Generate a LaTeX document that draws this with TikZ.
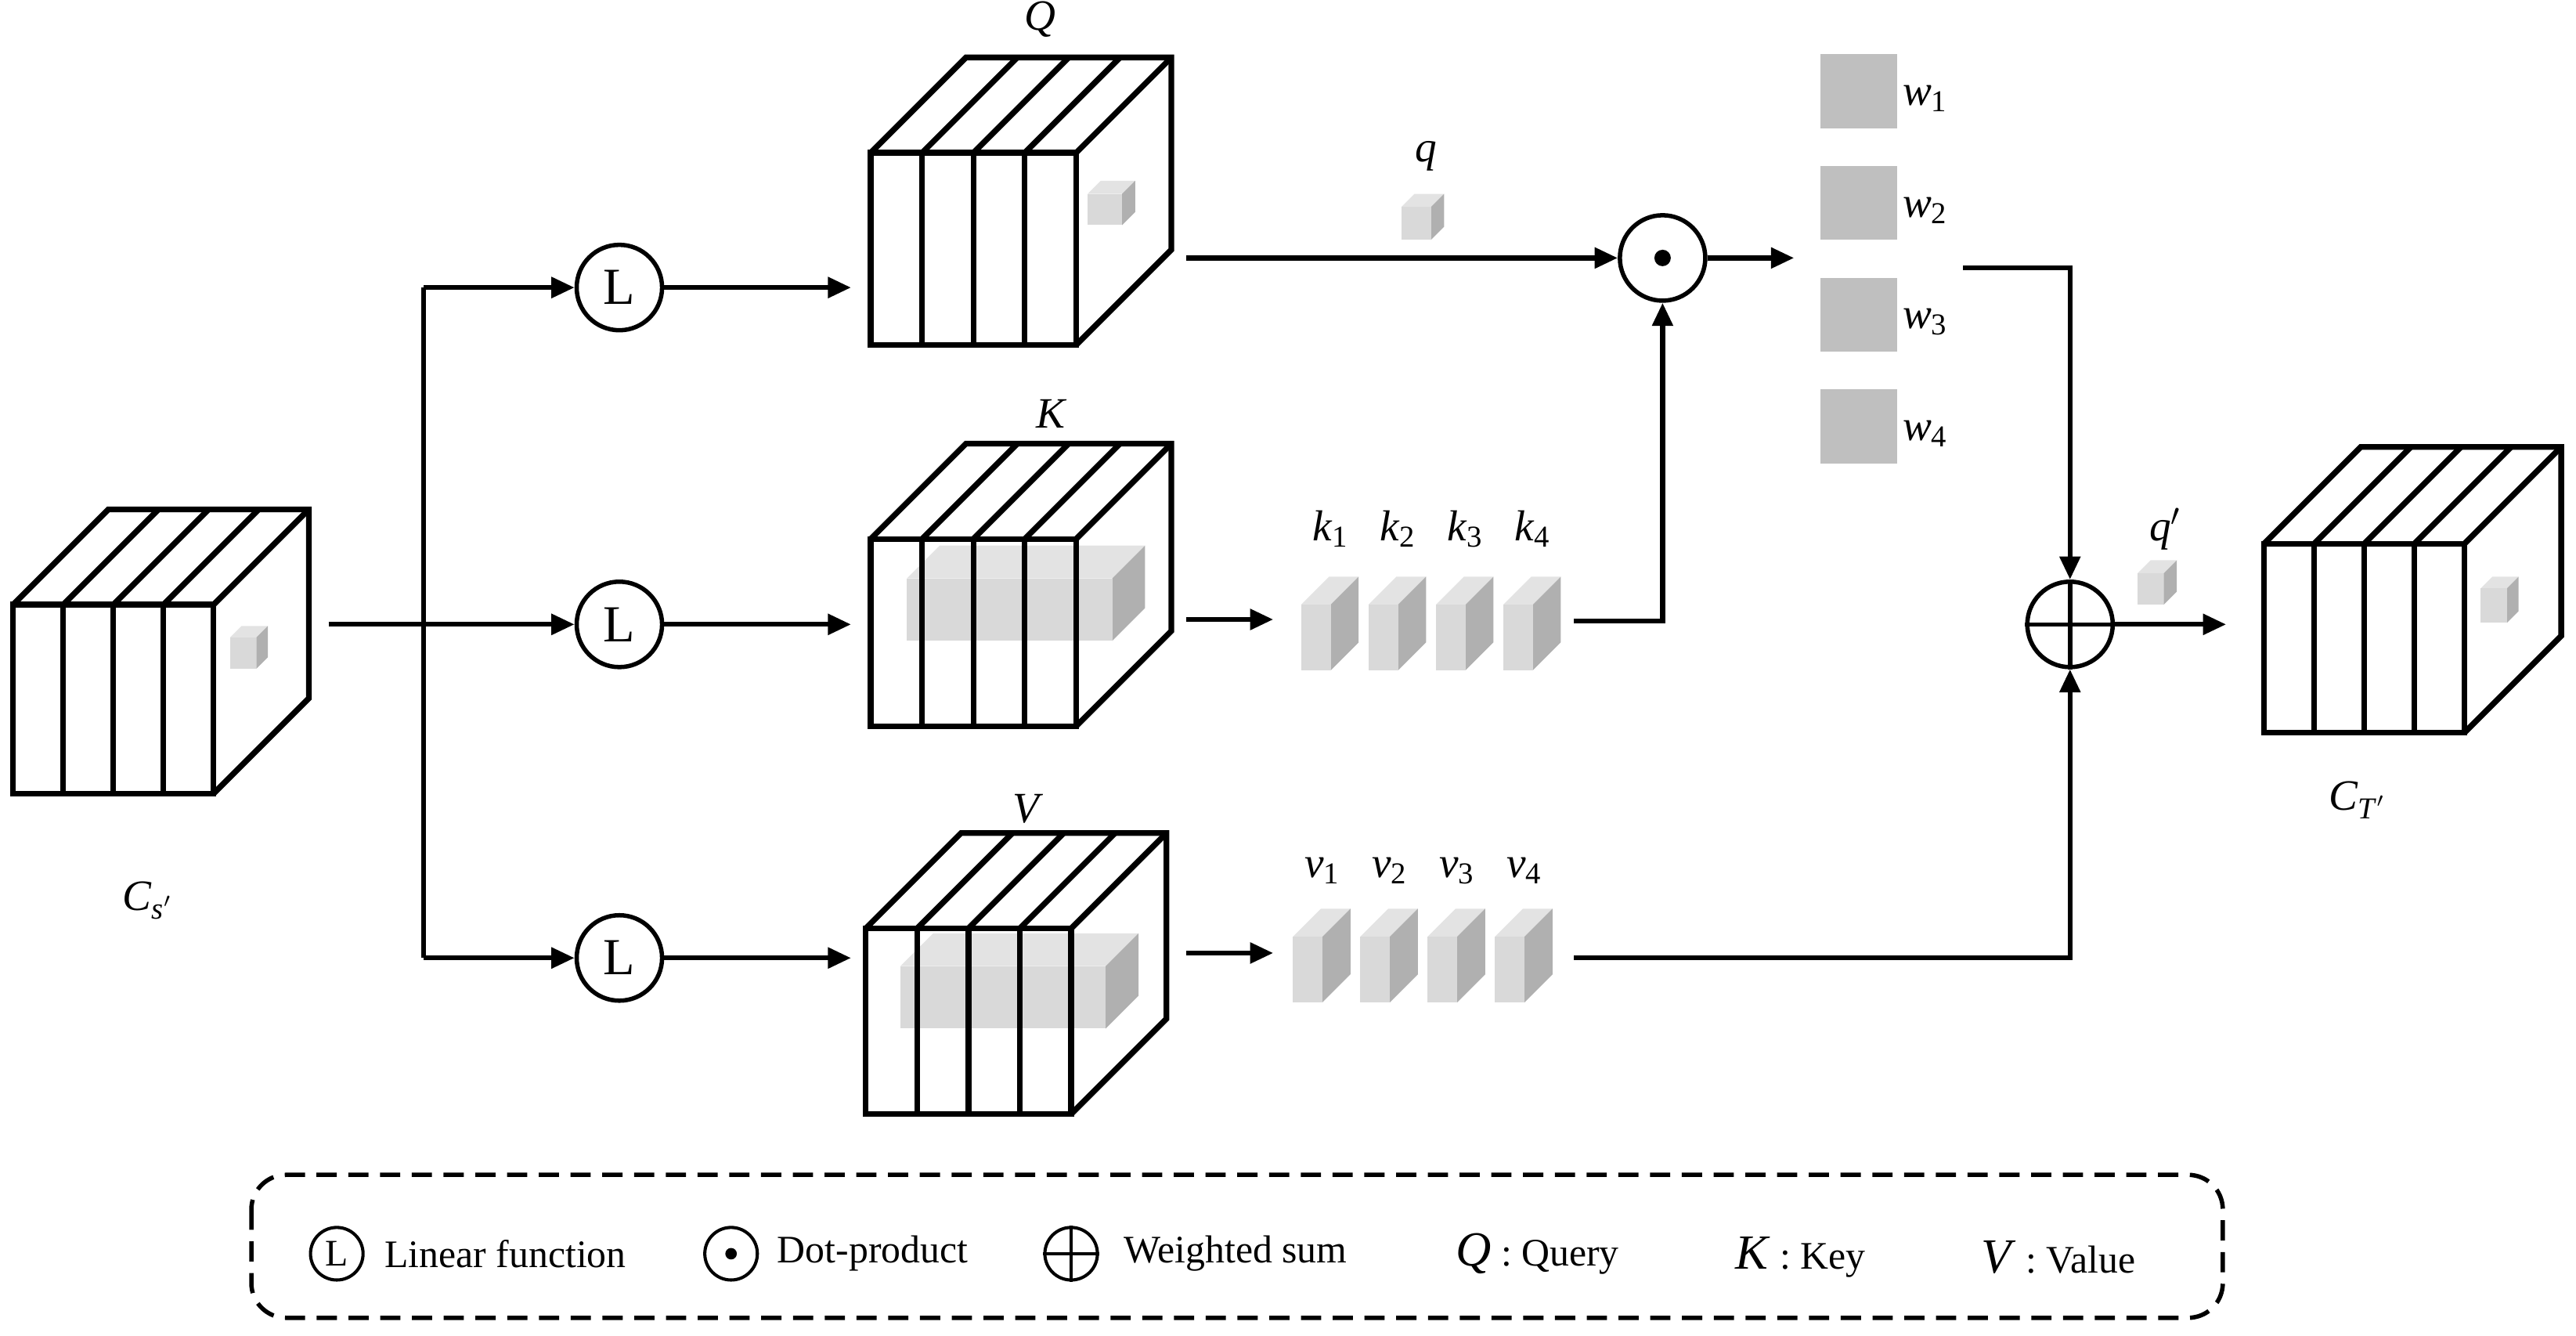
\documentclass[tikz,border=0pt]{standalone}
\usepackage{fontspec}
\setmainfont{Liberation Serif}
\usetikzlibrary{arrows.meta}
\definecolor{gfront}{HTML}{D9D9D9}
\definecolor{gtop}{HTML}{E3E3E3}
\definecolor{gside}{HTML}{B0B0B0}
\definecolor{wsq}{HTML}{BFBFBF}
\newcommand\stripcube[5]{% x y w h d
  \draw[cube] (#1,#2) rectangle ++(#3,#4);
  \foreach \i in {1,2,3}{\draw[cube] ({#1+\i*#3/4},#2) -- ++(0,#4);}
  \draw[cube] (#1,#2) -- ++(#5,-#5) -- ++(#3,0) -- ++(0,#4) -- ({#1+#3},{#2+#4});
  \draw[cube] ({#1+#3},#2) -- ++(#5,-#5);
  \foreach \i in {1,2,3}{\draw[cube] ({#1+\i*#3/4},#2) -- ++(#5,-#5);}
}
\newcommand\gcube[5]{% x y w h d
  \fill[gtop] (#1,#2) -- ++(#5,-#5) -- ++(#3,0) -- ({#1+#3},#2) -- cycle;
  \fill[gside] ({#1+#3},#2) -- ++(#5,-#5) -- ++(0,#4) -- ({#1+#3},{#2+#4}) -- cycle;
  \fill[gfront] (#1,#2) rectangle ++(#3,#4);
}
\newcommand\lab[2]{\textit{#1}\textsubscript{#2}}
\begin{document}
\begin{tikzpicture}[x=0.02cm,y=-0.02cm,
  cube/.style={line width=2pt,line join=miter},
  ln/.style={line width=1.7pt},
  arr/.style={ln,-{Triangle[length=8pt,width=7pt]}},
  op/.style={circle,draw,line width=1.5pt,minimum size=1.04cm,inner sep=0pt},
  lop/.style={circle,draw,line width=1.1pt,minimum size=0.64cm,inner sep=0pt},
  lbl/.style={font=\fontsize{15}{17}\selectfont},
  lg/.style={font=\fontsize{13.5}{15}\selectfont,anchor=west}]
\useasboundingbox (0,0) rectangle (1568,813);
% input cube
\stripcube{8}{368}{122}{115}{58}
\gcube{140}{388}{16}{19}{7}
\node[lbl] (cs) at (90,548) {\textit{C}\textsubscript{\textit{s}$'$}};
\coordinate (inR) at (200,380);
% Q K V cubes
\stripcube{530}{93}{125}{117}{58}
\gcube{662}{118}{21}{19}{8}
\node[lbl] (Ql) at (633,12) {\textit{Q}};
\gcube{552}{352}{125}{38}{20}
\stripcube{530}{328}{125}{114}{58}
\node[lbl] (Kl) at (640,252) {\textit{K}};
\gcube{548}{588}{125}{38}{20}
\stripcube{527}{565}{125}{113}{58}
\node[lbl] (Vl) at (626,492) {\textit{V}};
\coordinate (Qin) at (518,175);
\coordinate (Kin) at (518,380);
\coordinate (Vin) at (518,583);
% L nodes
\node[op,font=\fontsize{18}{18}\selectfont] (L1) at (377,175) {L};
\node[op,font=\fontsize{18}{18}\selectfont] (L2) at (377,380) {L};
\node[op,font=\fontsize{18}{18}\selectfont] (L3) at (377,583) {L};
\coordinate (bt) at (258,175);
\coordinate (bb) at (258,583);
\draw[arr] (inR) -- (L2);
\draw[ln] (bt) -- (bb);
\draw[arr] (bt) -- (L1);
\draw[arr] (bb) -- (L3);
\draw[arr] (L1) -- (Qin);
\draw[arr] (L2) -- (Kin);
\draw[arr] (L3) -- (Vin);
% k and v blocks
\foreach \i in {1,2,3,4}{
  \gcube{751+41*\i}{368}{18}{40}{17}
  \node[lbl] (k\i) at (769+41*\i,322) {\lab{k}{\i}};
  \gcube{746+41*\i}{570}{18}{40}{17}
  \node[lbl] (v\i) at (764+41*\i,530) {\lab{v}{\i}};
}
\coordinate (Kout) at (722,377);
\coordinate (kin) at (775,377);
\draw[arr] (Kout) -- (kin);
\coordinate (Vout) at (722,580);
\coordinate (vin) at (775,580);
\draw[arr] (Vout) -- (vin);
% q
\node[lbl] (ql) at (868,95) {\textit{q}};
\gcube{853}{126}{18}{20}{8}
% dot product
\node[op] (dot) at (1012,157) {};
\fill (dot.center) circle (5);
\coordinate (Qout) at (722,157);
\draw[arr] (Qout) -- (dot);
\coordinate (kout) at (958,378);
\draw[arr] (kout) -| (dot.south);
\coordinate (wl) at (1092,157);
\draw[arr] (dot) -- (wl);
% w squares
\foreach \i/\y in {1/33,2/101,3/169,4/237}{
  \fill[wsq] (1108,\y) rectangle ++(47,45);
  \node[lbl] (w\i) at (1172,\y+27) {\lab{w}{\i}};
}
% weighted sum
\node[op] (ws) at (1260,380) {};
\draw[line width=1.5pt] (ws.north) -- (ws.south) (ws.west) -- (ws.east);
\coordinate (wout) at (1195,163);
\draw[arr] (wout) -| (ws.north);
\coordinate (vout) at (958,583);
\draw[arr] (vout) -| (ws.south);
\coordinate (Tin) at (1355,380);
\draw[arr] (ws.east) -- (Tin);
\node[lbl] (qp) at (1318,322) {\textit{q}$'$};
\gcube{1301}{349}{16}{19}{8}
% output cube
\stripcube{1378}{331}{122}{115}{59}
\gcube{1510}{358}{16}{21}{7}
\node[lbl] (ct) at (1435,487) {\textit{C}\textsubscript{\textit{T}$'$}};
% legend
\draw[line width=1.5pt,dash pattern=on 7pt off 4pt,rounded corners=12] (153,715) rectangle (1353,802);
\node[lop,font=\fontsize{13}{13}\selectfont] (lgL) at (205,763) {L};
\node[lg] (t1) at (228,763) {Linear function};
\node[lop] (lgD) at (445,763) {};
\fill (lgD.center) circle (3.5);
\node[lg] (t2) at (467,763) {Dot-product};
\node[lop] (lgS) at (652,763) {};
\draw[line width=1.1pt] (lgS.north) -- (lgS.south) (lgS.west) -- (lgS.east);
\node[lg] (t3) at (678,763) {Weighted sum};
\node[lg] (t4) at (880,763) {{\fontsize{17}{17}\selectfont\textit{Q}} :\ Query};
\node[lg] (t5) at (1050,765) {{\fontsize{17}{17}\selectfont\textit{K}} :\ Key};
\node[lg] (t6) at (1200,765) {{\fontsize{17}{17}\selectfont\textit{V}} :\ Value};
\end{tikzpicture}
\end{document}
